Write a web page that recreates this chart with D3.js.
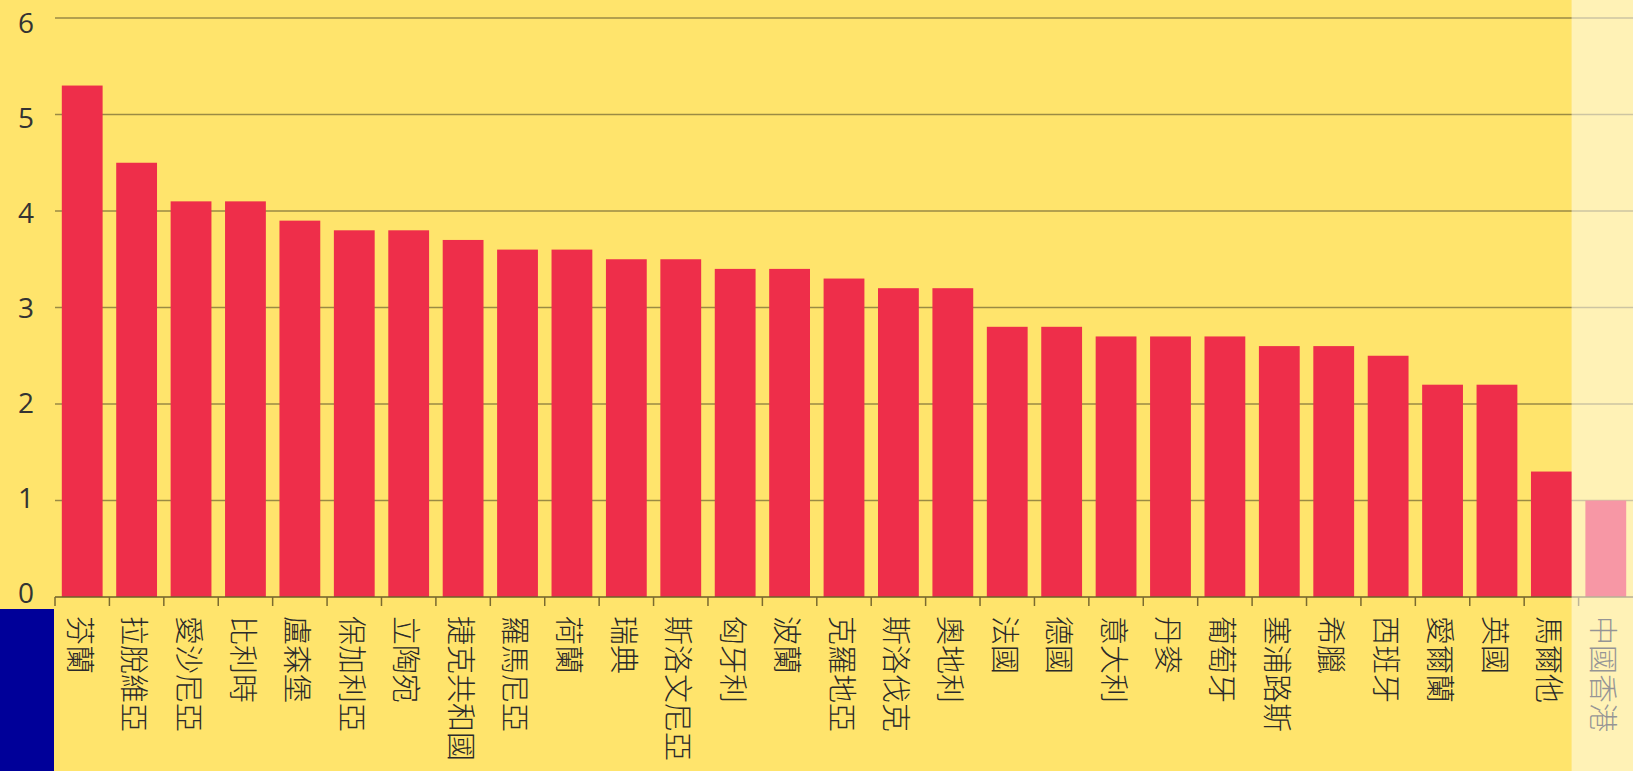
<!DOCTYPE html>
<meta charset="utf-8">
<html>
<head>
    <script src="https://d3js.org/d3.v7.js"></script>
    <style>
        html, body { margin: 0; padding: 0; background: #ffe46c; overflow: hidden; }
    </style>
</head>
<body>
    <script>
        // 國家 / 地區
        const countries = ["芬蘭", "拉脫維亞", "愛沙尼亞", "比利時", "盧森堡", "保加利亞", "立陶宛",
            "捷克共和國", "羅馬尼亞", "荷蘭", "瑞典", "斯洛文尼亞", "匈牙利", "波蘭", "克羅地亞",
            "斯洛伐克", "奧地利", "法國", "德國", "意大利", "丹麥", "葡萄牙", "塞浦路斯", "希臘",
            "西班牙", "愛爾蘭", "英國", "馬爾他", "中國香港"];
        const values = [5.3, 4.5, 4.1, 4.1, 3.9, 3.8, 3.8, 3.7, 3.6, 3.6, 3.5, 3.5, 3.4, 3.4, 3.3,
            3.2, 3.2, 2.8, 2.8, 2.7, 2.7, 2.7, 2.6, 2.6, 2.5, 2.2, 2.2, 1.3, 1.0];
        const yTicks = [0, 1, 2, 3, 4, 5, 6];
        const highlight = "中國香港";

        const data = countries.map((c, i) => ({ name: c, value: values[i] }));

        const width = 1633;
        const height = 771;
        const margin = { top: 18, left: 55, right: 0, bottom: 174 };

        const svg = d3.select('body')
            .append('svg')
            .attr('width', width)
            .attr('height', height);

        svg.append('rect')
            .attr('width', width)
            .attr('height', height)
            .attr('fill', '#ffe46c');

        const x = d3.scaleBand()
            .domain(countries)
            .range([margin.left, width - margin.right])
            .paddingInner(0.25)
            .paddingOuter(0.125);

        const y = d3.scaleLinear()
            .domain([0, 6])
            .range([height - margin.bottom, margin.top]);

        // the tick labels sit on a slightly tighter scale than the grid
        const yLabel = d3.scaleLinear()
            .domain([0, 6])
            .range([593, 23]);

        // grid lines
        svg.append('g')
            .selectAll('line')
            .data(yTicks.filter(d => d > 0))
            .enter()
            .append('line')
            .attr('x1', margin.left)
            .attr('x2', width)
            .attr('y1', d => y(d))
            .attr('y2', d => y(d))
            .attr('stroke', '#9a8a44')
            .attr('stroke-width', 1.3);

        // y labels
        svg.append('g')
            .selectAll('text')
            .data(yTicks)
            .enter()
            .append('text')
            .attr('x', 34)
            .attr('y', d => yLabel(d))
            .attr('dy', '0.36em')
            .attr('text-anchor', 'end')
            .style('font-family', '"Open Sans", sans-serif')
            .style('font-size', '28px')
            .style('fill', '#333')
            .text(d => d);

        // bars
        svg.append('g')
            .selectAll('rect')
            .data(data)
            .enter()
            .append('rect')
            .attr('x', d => x(d.name))
            .attr('y', d => y(d.value))
            .attr('width', x.bandwidth())
            .attr('height', d => y(0) - y(d.value))
            .attr('fill', '#ee2e4a');

        // x axis line + ticks
        const tickPos = d => x(d) - x.step() * x.paddingInner() / 2;
        svg.append('line')
            .attr('x1', margin.left)
            .attr('x2', width)
            .attr('y1', y(0))
            .attr('y2', y(0))
            .attr('stroke', '#6e5f2a')
            .attr('stroke-width', 1.5);

        svg.append('g')
            .selectAll('line')
            .data(countries)
            .enter()
            .append('line')
            .attr('x1', d => tickPos(d))
            .attr('x2', d => tickPos(d))
            .attr('y1', y(0))
            .attr('y2', y(0) + 9)
            .attr('stroke', '#7a6a30')
            .attr('stroke-width', 1.5);

        // x labels, rotated 90deg
        svg.append('g')
            .selectAll('text')
            .data(countries)
            .enter()
            .append('text')
            .attr('transform', d => `translate(${x(d) + x.bandwidth() / 2 - 3},${y(0) + 19}) rotate(90)`)
            .attr('dy', '0.36em')
            .style('font-family', '"Noto Sans CJK TC", sans-serif')
            .style('font-weight', 300)
            .style('font-size', '29px')
            .style('fill', '#2a2a2a')
            .text(d => d);

        // fade the Hong Kong column
        const hx = tickPos(highlight) - 7;
        svg.append('rect')
            .attr('x', hx)
            .attr('y', 0)
            .attr('width', width - hx)
            .attr('height', height)
            .attr('fill', '#fff')
            .attr('opacity', 0.5);

        // blue block at bottom left
        svg.append('rect')
            .attr('x', 0)
            .attr('y', y(0) + 12)
            .attr('width', margin.left - 1)
            .attr('height', height - y(0) - 12)
            .attr('fill', '#000099');
    </script>
</body>
</html>
